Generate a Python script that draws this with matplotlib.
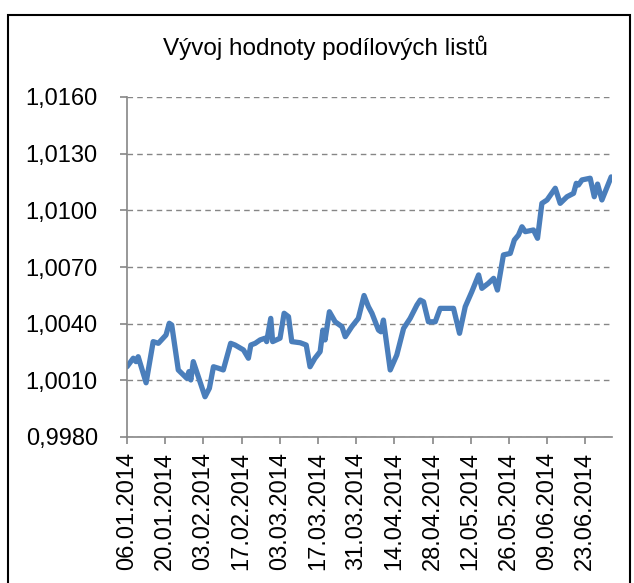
import numpy as np
import pandas as pd
import matplotlib
matplotlib.use("Agg")
import matplotlib.pyplot as plt
import matplotlib.dates as mdates
from matplotlib.ticker import FuncFormatter, FixedLocator
from matplotlib.patches import Rectangle

plt.rcParams['font.family'] = ['Liberation Sans', 'DejaVu Sans']

title = "Vývoj hodnoty podílových listů"
start_date = "2014-01-06"

# days since 06.01.2014
day_offsets = [0.0, 2.3, 3.3, 4.1, 7.0, 9.6, 11.5, 14.3, 15.5, 16.4, 18.8, 21.9, 22.7, 23.4,
               24.3, 28.6, 30.2, 31.7, 33.5, 35.3, 38.0, 39.6, 42.7, 44.5, 45.4, 47.0, 48.8,
               50.6, 51.2, 52.7, 53.4, 56.1, 57.6, 59.2, 60.4, 63.5, 65.7, 67.1, 68.9, 70.8,
               71.8, 72.6, 74.2, 76.3, 78.8, 80.0, 82.4, 84.8, 86.9, 88.5, 89.8, 92.2, 93.1,
               94.0, 96.5, 98.9, 101.4, 103.8, 106.3, 107.5, 108.7, 110.5, 113.0, 114.8, 117.3,
               119.7, 121.9, 124.0, 126.4, 128.9, 130.1, 132.5, 134.4, 135.8, 138.0, 140.5,
               142.0, 143.5, 144.8, 146.0, 149.0, 150.5, 152.1, 154.0, 157.0, 158.8, 161.3,
               163.7, 164.7, 165.5, 166.8, 169.8, 171.3, 172.5, 174.1, 177.5]
values = [1.00172, 1.00217, 1.00199, 1.00225, 1.00087, 1.00305, 1.00296, 1.00340, 1.00402,
          1.00393, 1.00155, 1.00111, 1.00146, 1.00102, 1.00199, 1.00013, 1.00058, 1.00172,
          1.00164, 1.00155, 1.00296, 1.00287, 1.00261, 1.00217, 1.00287, 1.00296, 1.00314,
          1.00323, 1.00305, 1.00428, 1.00305, 1.00323, 1.00455, 1.00437, 1.00305, 1.00299,
          1.00287, 1.00172, 1.00217, 1.00252, 1.00366, 1.00314, 1.00463, 1.00410, 1.00384,
          1.00331, 1.00384, 1.00428, 1.00549, 1.00490, 1.00455, 1.00366, 1.00357, 1.00419,
          1.00155, 1.00234, 1.00375, 1.00428, 1.00499, 1.00525, 1.00516, 1.00410, 1.00410,
          1.00481, 1.00481, 1.00481, 1.00349, 1.00490, 1.00569, 1.00658, 1.00587, 1.00614,
          1.00640, 1.00578, 1.00764, 1.00772, 1.00843, 1.00869, 1.00913, 1.00887, 1.00896,
          1.00852, 1.01037, 1.01055, 1.01117, 1.01037, 1.01072, 1.01090, 1.01143, 1.01134,
          1.01161, 1.01170, 1.01072, 1.01139, 1.01055, 1.01177]

x_tick_labels = ["06.01.2014", "20.01.2014", "03.02.2014", "17.02.2014", "03.03.2014",
                 "17.03.2014", "31.03.2014", "14.04.2014", "28.04.2014", "12.05.2014",
                 "26.05.2014", "09.06.2014", "23.06.2014"]
y_ticks = [0.9980, 1.0010, 1.0040, 1.0070, 1.0100, 1.0130, 1.0160]

dates = pd.Timestamp(start_date) + pd.to_timedelta(day_offsets, unit='D')
tick_dates = pd.to_datetime(x_tick_labels, format="%d.%m.%Y")

fig = plt.figure(figsize=(6.34, 5.83), dpi=100)
fig.patches.append(Rectangle((8/634, -0.1), 622/634, 1.1 - 15/583, transform=fig.transFigure,
                             fill=False, edgecolor='black', linewidth=1.5))

ax = fig.add_axes([127/634, 1 - 437/583, (612 - 127)/634, (437 - 97)/583])
gray = '#868686'
ax.plot(mdates.date2num(dates), values, color='#4A7EBB', linewidth=3.8, solid_joinstyle='round',
        solid_capstyle='round')

x0 = mdates.date2num(pd.Timestamp(start_date))
ax.set_xlim(x0, x0 + 177.8)
ax.set_ylim(y_ticks[0], y_ticks[-1])
ax.yaxis.set_major_locator(FixedLocator(y_ticks))
ax.yaxis.set_major_formatter(FuncFormatter(lambda v, p: f"{v:.4f}".replace('.', ',')))
ax.set_xticks(mdates.date2num(tick_dates))
ax.set_xticklabels(x_tick_labels, rotation=90)

ax.grid(axis='y', color=gray, linestyle=(0, (4, 3)), linewidth=1.0)
ax.set_axisbelow(True)
for s in ['top', 'right']:
    ax.spines[s].set_visible(False)
for s in ['left', 'bottom']:
    ax.spines[s].set_color(gray)
    ax.spines[s].set_linewidth(1.2)
ax.tick_params(axis='both', colors=gray, length=5, width=1.2, labelsize=17, labelcolor='black')
ax.tick_params(axis='y', pad=16)
ax.tick_params(axis='x', pad=6)

fig.text(325/634, 1 - 48/583, title, ha='center', va='center', fontsize=17.5)

fig.savefig("out.png", dpi=100)
